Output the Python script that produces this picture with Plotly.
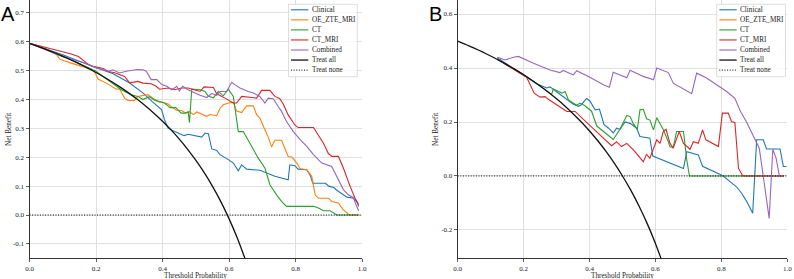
import plotly.graph_objects as go

# ---------------- data ----------------
legend_names = ["Clinical", "OE_ZTE_MRI", "CT", "CT_MRI", "Combined", "Treat all", "Treat none"]
x_tick_vals = [0.0, 0.2, 0.4, 0.6, 0.8, 1.0]
x_tick_text = ["0.0", "0.2", "0.4", "0.6", "0.8", "1.0"]
a_y_tick_vals = [-0.1, 0.0, 0.1, 0.2, 0.3, 0.4, 0.5, 0.6, 0.7]
a_y_tick_text = ["-0.1", "0.0", "0.1", "0.2", "0.3", "0.4", "0.5", "0.6", "0.7"]
b_y_tick_vals = [-0.2, 0.0, 0.2, 0.4, 0.6]
b_y_tick_text = ["-0.2", "0.0", "0.2", "0.4", "0.6"]

# Panel A (threshold, net benefit)
a_clinical = [(0, 0.595), (0.1, 0.555), (0.2, 0.51), (0.25, 0.49), (0.3, 0.458), (0.341, 0.423), (0.37, 0.392),
              (0.397, 0.365), (0.406, 0.33), (0.417, 0.301), (0.435, 0.29), (0.45, 0.283), (0.465, 0.275),
              (0.477, 0.28), (0.507, 0.272), (0.518, 0.27), (0.528, 0.284), (0.538, 0.282), (0.548, 0.229),
              (0.563, 0.224), (0.573, 0.209), (0.583, 0.203), (0.598, 0.192), (0.613, 0.18), (0.628, 0.153),
              (0.638, 0.174), (0.653, 0.159), (0.693, 0.155), (0.738, 0.134), (0.778, 0.122), (0.783, 0.174),
              (0.798, 0.171), (0.808, 0.159), (0.834, 0.157), (0.845, 0.135), (0.852, 0.11), (0.89, 0.11),
              (0.9, 0.1), (0.915, 0.095), (0.925, 0.085), (0.945, 0.07), (0.955, 0.062), (0.975, 0.058),
              (0.985, 0.045), (0.99, 0.03)]
a_oe_zte_mri = [(0, 0.595), (0.05, 0.575), (0.081, 0.556), (0.091, 0.54), (0.12, 0.528), (0.15, 0.518),
                (0.176, 0.509), (0.195, 0.498), (0.206, 0.471), (0.231, 0.457), (0.245, 0.447), (0.261, 0.436),
                (0.27, 0.438), (0.286, 0.405), (0.296, 0.397), (0.316, 0.397), (0.326, 0.411), (0.356, 0.417),
                (0.371, 0.405), (0.39, 0.392), (0.403, 0.39), (0.417, 0.385), (0.43, 0.372), (0.442, 0.363),
                (0.457, 0.362), (0.471, 0.353), (0.481, 0.358), (0.493, 0.348), (0.503, 0.357), (0.518, 0.35),
                (0.533, 0.342), (0.543, 0.348), (0.563, 0.344), (0.573, 0.37), (0.583, 0.382), (0.598, 0.388),
                (0.613, 0.39), (0.623, 0.36), (0.638, 0.355), (0.653, 0.378), (0.673, 0.378), (0.683, 0.348),
                (0.693, 0.336), (0.705, 0.303), (0.718, 0.27), (0.728, 0.236), (0.738, 0.259), (0.758, 0.259),
                (0.778, 0.203), (0.79, 0.2), (0.804, 0.18), (0.814, 0.16), (0.834, 0.157), (0.849, 0.134),
                (0.859, 0.07), (0.869, 0.058), (0.899, 0.058), (0.909, 0.047), (0.929, 0.042), (0.944, 0.018),
                (0.962, 0.0), (0.99, 0.0)]
a_ct = [(0, 0.595), (0.1, 0.552), (0.2, 0.498), (0.236, 0.469), (0.276, 0.434), (0.306, 0.417), (0.326, 0.411),
        (0.341, 0.4), (0.361, 0.41), (0.376, 0.398), (0.391, 0.394), (0.406, 0.388), (0.423, 0.372),
        (0.44, 0.372), (0.456, 0.353), (0.468, 0.353), (0.477, 0.358), (0.481, 0.32), (0.488, 0.436),
        (0.513, 0.434), (0.528, 0.428), (0.538, 0.411), (0.553, 0.406), (0.568, 0.428), (0.583, 0.413),
        (0.598, 0.436), (0.613, 0.411), (0.628, 0.289), (0.643, 0.289), (0.663, 0.249), (0.673, 0.232),
        (0.688, 0.197), (0.708, 0.163), (0.723, 0.105), (0.743, 0.07), (0.758, 0.047), (0.773, 0.03),
        (0.854, 0.03), (0.869, 0.024), (0.884, 0.015), (0.904, 0.015), (0.924, 0.0), (0.99, 0.0)]
a_ct_mri = [(0, 0.595), (0.05, 0.58), (0.1, 0.564), (0.126, 0.558), (0.147, 0.549), (0.162, 0.535),
            (0.177, 0.522), (0.191, 0.515), (0.222, 0.508), (0.237, 0.497), (0.256, 0.493), (0.286, 0.48),
            (0.301, 0.458), (0.326, 0.463), (0.341, 0.457), (0.366, 0.455), (0.381, 0.446), (0.391, 0.436),
            (0.417, 0.44), (0.437, 0.434), (0.457, 0.44), (0.477, 0.44), (0.497, 0.434), (0.513, 0.428),
            (0.525, 0.444), (0.553, 0.442), (0.563, 0.42), (0.573, 0.415), (0.588, 0.405), (0.613, 0.388),
            (0.623, 0.388), (0.638, 0.411), (0.683, 0.405), (0.698, 0.432), (0.723, 0.432), (0.738, 0.411),
            (0.753, 0.403), (0.763, 0.385), (0.778, 0.347), (0.798, 0.312), (0.808, 0.303), (0.854, 0.303),
            (0.869, 0.278), (0.884, 0.249), (0.899, 0.213), (0.909, 0.203), (0.929, 0.203), (0.944, 0.163),
            (0.964, 0.1), (0.979, 0.058), (0.99, 0.036)]
a_combined = [(0, 0.595), (0.05, 0.572), (0.096, 0.55), (0.136, 0.537), (0.166, 0.527), (0.2, 0.51),
              (0.236, 0.498), (0.251, 0.503), (0.271, 0.492), (0.291, 0.498), (0.323, 0.504), (0.341, 0.503),
              (0.351, 0.498), (0.366, 0.469), (0.383, 0.469), (0.398, 0.452), (0.413, 0.446), (0.428, 0.434),
              (0.443, 0.446), (0.451, 0.43), (0.461, 0.446), (0.477, 0.434), (0.497, 0.423), (0.513, 0.415),
              (0.533, 0.407), (0.548, 0.421), (0.563, 0.415), (0.573, 0.428), (0.593, 0.428), (0.608, 0.46),
              (0.618, 0.451), (0.633, 0.44), (0.658, 0.428), (0.673, 0.423), (0.693, 0.411), (0.708, 0.388),
              (0.718, 0.405), (0.733, 0.403), (0.748, 0.376), (0.758, 0.359), (0.773, 0.324), (0.793, 0.29),
              (0.814, 0.261), (0.834, 0.238), (0.854, 0.209), (0.879, 0.18), (0.909, 0.168), (0.924, 0.134),
              (0.944, 0.088), (0.959, 0.07), (0.974, 0.06), (0.984, 0.03), (0.99, 0.015)]
a_treat_all = [(0, 0.595), (0.025, 0.5846), (0.05, 0.5737), (0.075, 0.5622), (0.1, 0.55), (0.125, 0.5371),
               (0.15, 0.5235), (0.175, 0.5091), (0.2, 0.4938), (0.225, 0.4774), (0.25, 0.46), (0.275, 0.4414),
               (0.3, 0.4214), (0.325, 0.4), (0.35, 0.3769), (0.375, 0.352), (0.4, 0.325), (0.425, 0.2957),
               (0.45, 0.2636), (0.475, 0.2286), (0.5, 0.19), (0.525, 0.1474), (0.55, 0.1), (0.575, 0.0471),
               (0.6, -0.0125), (0.625, -0.08), (0.65, -0.1571)]
a_treat_none = [(0, 0.0), (1.0, 0.0)]

# Panel B
b_clinical = [(0.12, 0.438), (0.159, 0.406), (0.199, 0.375), (0.24, 0.342), (0.27, 0.326), (0.28, 0.33),
              (0.31, 0.303), (0.331, 0.284), (0.351, 0.266), (0.366, 0.258), (0.376, 0.265), (0.391, 0.287),
              (0.401, 0.278), (0.417, 0.245), (0.43, 0.248), (0.444, 0.19), (0.457, 0.178), (0.472, 0.16),
              (0.482, 0.177), (0.492, 0.173), (0.508, 0.2), (0.523, 0.195), (0.543, 0.177), (0.553, 0.146),
              (0.583, 0.14), (0.592, 0.074), (0.685, 0.028), (0.695, 0.09), (0.73, 0.078), (0.743, 0.036),
              (0.806, 0.0), (0.825, -0.02), (0.846, -0.04), (0.862, -0.065), (0.877, -0.095), (0.895, -0.138),
              (0.907, 0.134), (0.927, 0.134), (0.937, 0.1), (0.978, 0.1), (0.988, 0.035), (0.998, 0.035)]
b_oe_zte_mri = []
b_ct = [(0.12, 0.432), (0.2, 0.375), (0.25, 0.333), (0.285, 0.302), (0.29, 0.322), (0.316, 0.307),
        (0.326, 0.313), (0.336, 0.282), (0.361, 0.262), (0.371, 0.27), (0.386, 0.26), (0.406, 0.24),
        (0.422, 0.185), (0.472, 0.135), (0.492, 0.172), (0.513, 0.224), (0.523, 0.22), (0.533, 0.194),
        (0.545, 0.172), (0.553, 0.245), (0.563, 0.247), (0.573, 0.212), (0.583, 0.207), (0.594, 0.171),
        (0.604, 0.216), (0.614, 0.192), (0.624, 0.171), (0.639, 0.127), (0.644, 0.108), (0.654, 0.105),
        (0.664, 0.165), (0.685, 0.165), (0.695, 0.06), (0.703, 0.0), (0.99, 0.0)]
b_ct_mri = [(0.12, 0.432), (0.2, 0.375), (0.209, 0.366), (0.232, 0.307), (0.25, 0.292), (0.265, 0.294),
            (0.275, 0.284), (0.331, 0.239), (0.356, 0.239), (0.437, 0.146), (0.467, 0.112), (0.482, 0.127),
            (0.497, 0.109), (0.513, 0.121), (0.533, 0.097), (0.563, 0.053), (0.573, 0.08), (0.583, 0.066),
            (0.604, 0.134), (0.614, 0.121), (0.624, 0.165), (0.632, 0.173), (0.644, 0.121), (0.654, 0.103),
            (0.664, 0.134), (0.672, 0.165), (0.685, 0.121), (0.695, 0.109), (0.705, 0.099), (0.715, 0.127),
            (0.73, 0.121), (0.743, 0.171), (0.753, 0.134), (0.791, 0.109), (0.803, 0.233), (0.821, 0.233),
            (0.831, 0.201), (0.841, 0.198), (0.852, 0.028), (0.865, 0.0), (0.99, 0.0)]
b_combined = [(0.12, 0.44), (0.144, 0.43), (0.169, 0.44), (0.184, 0.443), (0.23, 0.418), (0.28, 0.393),
              (0.31, 0.383), (0.32, 0.391), (0.341, 0.38), (0.351, 0.375), (0.361, 0.39), (0.401, 0.366),
              (0.442, 0.338), (0.46, 0.329), (0.472, 0.384), (0.513, 0.364), (0.523, 0.392), (0.563, 0.369),
              (0.594, 0.356), (0.604, 0.4), (0.639, 0.383), (0.654, 0.344), (0.71, 0.305), (0.725, 0.381),
              (0.755, 0.363), (0.786, 0.338), (0.816, 0.313), (0.841, 0.288), (0.857, 0.242), (0.877, 0.198),
              (0.897, 0.148), (0.915, 0.103), (0.927, 0.0), (0.945, -0.157), (0.956, 0.099), (0.966, 0.066),
              (0.976, 0.0), (0.99, 0.0)]
b_treat_all = [(0, 0.5), (0.025, 0.4872), (0.05, 0.4737), (0.075, 0.4595), (0.1, 0.4444), (0.125, 0.4286),
               (0.15, 0.4118), (0.175, 0.3939), (0.2, 0.375), (0.225, 0.3548), (0.25, 0.3333), (0.275, 0.3103),
               (0.3, 0.2857), (0.325, 0.2593), (0.35, 0.2308), (0.375, 0.2), (0.4, 0.1667), (0.425, 0.1304),
               (0.45, 0.0909), (0.475, 0.0476), (0.5, 0.0), (0.525, -0.0526), (0.55, -0.1111), (0.575, -0.1765),
               (0.6, -0.25), (0.625, -0.3333)]
b_treat_none = [(0, 0.0), (1.0, 0.0)]

# ---------------- styling ----------------
W, H = 794, 279
colors = ["#1f77b4", "#ff7f0e", "#2ca02c", "#d62728", "#9467bd", "#000000", "#000000"]
SERIF = "Liberation Serif"


def fx(p):
    return p / W


def fy(p):
    return 1 - p / H


fig = go.Figure()

panels = [
    ("x", "y", [a_clinical, a_oe_zte_mri, a_ct, a_ct_mri, a_combined, a_treat_all, a_treat_none]),
    ("x2", "y2", [b_clinical, b_oe_zte_mri, b_ct, b_ct_mri, b_combined, b_treat_all, b_treat_none]),
]
for xa, ya, series in panels:
    for i, pts in enumerate(series):
        xs = [p[0] for p in pts]
        ys = [p[1] for p in pts]
        if i < 5:
            line = dict(color=colors[i], width=1.1)
        elif i == 5:
            line = dict(color="#111111", width=1.3, shape="spline", smoothing=0.6)
        else:
            line = dict(color="black", width=1, dash="1px,1.6px")
        fig.add_trace(go.Scatter(x=xs, y=ys, mode="lines", line=line, name=legend_names[i],
                                 xaxis=xa, yaxis=ya, showlegend=False, hoverinfo="skip"))

axis_common = dict(showgrid=True, gridcolor="#dcdcdc", gridwidth=0.9, zeroline=False, automargin=False,
                   showline=True, linecolor="#333333", linewidth=1, ticks="outside", ticklen=3,
                   tickcolor="#333333", tickwidth=0.8,
                   tickfont=dict(family=SERIF, size=7, color="#222222"))

ydom = [1 - 258.3 / H, 1.0]
fig.update_layout(
    width=W, height=H, margin=dict(l=0, r=0, t=0, b=0, autoexpand=False),
    paper_bgcolor="white", plot_bgcolor="white", showlegend=False,
    xaxis=dict(domain=[fx(29.5), fx(362)], range=[0, 1], tickvals=x_tick_vals, ticktext=x_tick_text,
               anchor="y", **axis_common),
    yaxis=dict(domain=ydom, range=[-0.15, 0.745], tickvals=a_y_tick_vals, ticktext=a_y_tick_text,
               anchor="x", **axis_common),
    xaxis2=dict(domain=[fx(457.7), fx(787.3)], range=[0, 1], tickvals=x_tick_vals, ticktext=x_tick_text,
                anchor="y2", **axis_common),
    yaxis2=dict(domain=ydom, range=[-0.305, 0.652], tickvals=b_y_tick_vals, ticktext=b_y_tick_text,
                anchor="x2", **axis_common),
)

# ---------------- manual legends (matplotlib style) ----------------
shapes = []
annotations = []
for box_l, box_r, line_l, line_r, text_x in [(288.5, 357.3, 291, 308.3, 310.5), (716.7, 785.5, 719.3, 736.7, 739)]:
    shapes.append(dict(type="rect", xref="paper", yref="paper",
                       x0=fx(box_l), x1=fx(box_r), y0=fy(76.7), y1=fy(4.3),
                       fillcolor="rgba(255,255,255,0.85)", line=dict(color="#d5d5d5", width=0.8), layer="above"))
    for i, name in enumerate(legend_names):
        yc = 9.8 + i * 10.05
        if i < 5:
            ln = dict(color=colors[i], width=1.1)
        elif i == 5:
            ln = dict(color="#333333", width=1.5)
        else:
            ln = dict(color="black", width=1, dash="1px,1.6px")
        shapes.append(dict(type="line", xref="paper", yref="paper", x0=fx(line_l), x1=fx(line_r),
                           y0=fy(yc), y1=fy(yc), line=ln, layer="above"))
        annotations.append(dict(text=name, xref="paper", yref="paper", x=fx(text_x), y=fy(yc),
                                xanchor="left", yanchor="middle", showarrow=False, borderpad=0,
                                font=dict(family=SERIF, size=7.2, color="#222222")))

# axis titles
for cx in [(29.5 + 362) / 2, (457.7 + 787.3) / 2]:
    annotations.append(dict(text="Threshold Probability", xref="paper", yref="paper", x=fx(cx), y=fy(275.5),
                            xanchor="center", yanchor="middle", showarrow=False, borderpad=0,
                            font=dict(family=SERIF, size=7.2, color="#222222")))
for cx in [9, 436]:
    annotations.append(dict(text="Net Benefit", xref="paper", yref="paper", x=fx(cx), y=fy(130),
                            xanchor="center", yanchor="middle", showarrow=False, borderpad=0, textangle=-90,
                            font=dict(family=SERIF, size=7.2, color="#222222")))

# panel letters
annotations.append(dict(text="A", xref="paper", yref="paper", x=fx(8), y=fy(13.7), xanchor="center",
                        yanchor="middle", showarrow=False,
                        font=dict(family="Liberation Sans", size=20, color="black")))
annotations.append(dict(text="B", xref="paper", yref="paper", x=fx(435), y=fy(13.7), xanchor="center",
                        yanchor="middle", showarrow=False,
                        font=dict(family="Liberation Sans", size=20, color="black")))

fig.update_layout(shapes=shapes, annotations=annotations)
fig.write_html("out.html", config={"displayModeBar": False, "staticPlot": True},
               post_script="document.body.style.margin='0';document.body.style.overflow='hidden';")
